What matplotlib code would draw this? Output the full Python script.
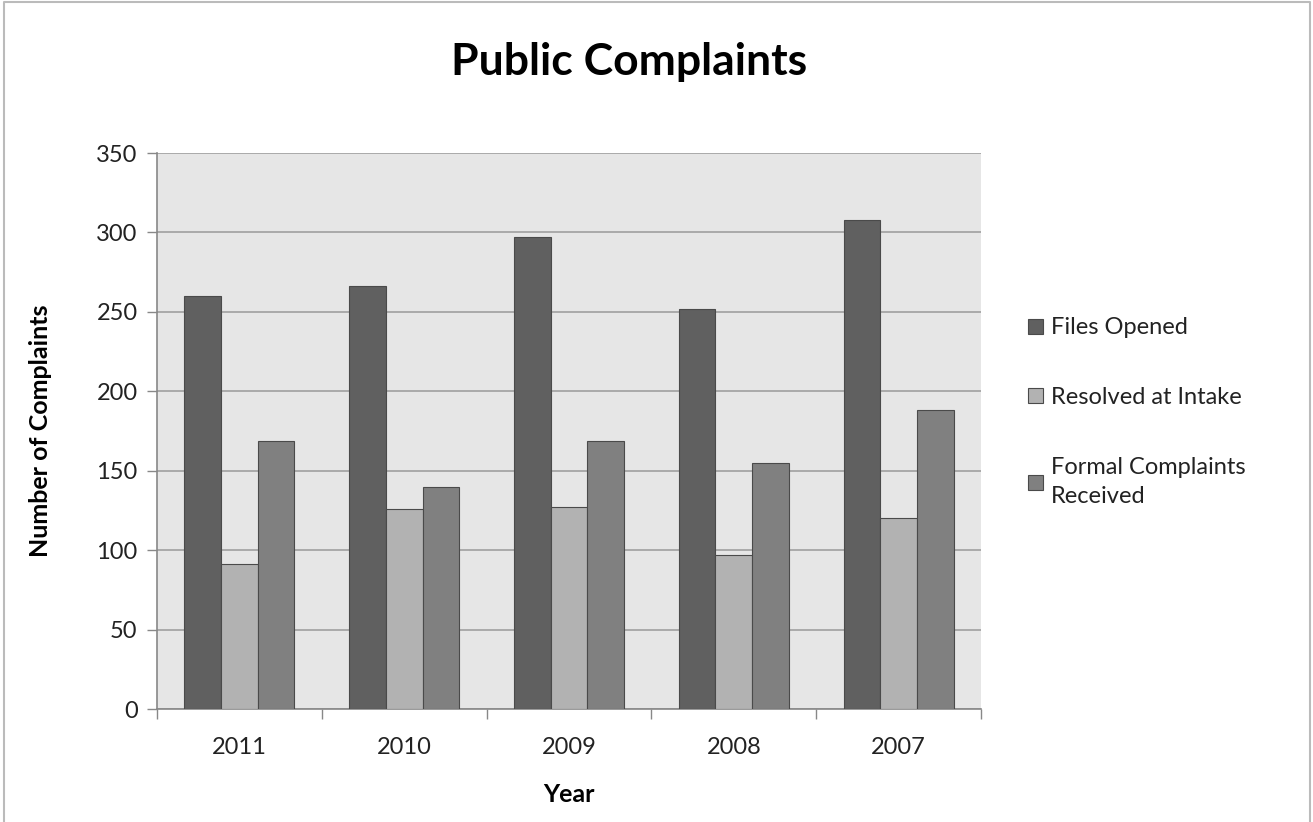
import matplotlib
matplotlib.use("Agg")
import matplotlib.pyplot as plt
import numpy as np
from matplotlib.patches import Patch
from matplotlib.lines import Line2D

years = ["2011", "2010", "2009", "2008", "2007"]
files_opened = [260, 266, 297, 252, 308]
resolved_at_intake = [91, 126, 127, 97, 120]
formal_complaints = [169, 140, 169, 155, 188]
series_names = ["Files Opened", "Resolved at Intake", "Formal Complaints\nReceived"]
series_colors = ["#606060", "#b2b2b2", "#808080"]

plt.rcParams['font.family'] = ['Lato', 'DejaVu Sans']

W, H = 1313, 822
fig = plt.figure(figsize=(W / 100, H / 100), dpi=100)
ax = fig.add_axes([157 / W, 1 - 709 / H, (981 - 157) / W, (709 - 153) / H])
ax.set_facecolor("#e6e6e6")

x = np.arange(len(years))
bw = 1 / 4.5
for i, (vals, col) in enumerate(zip([files_opened, resolved_at_intake, formal_complaints], series_colors)):
    ax.bar(x + (i - 1) * bw, vals, width=bw, color=col, edgecolor="#4a4a4a", linewidth=0.8, zorder=3)

ax.set_xlim(-0.5, len(years) - 0.5)
ax.set_ylim(0, 350)
ax.set_yticks(np.arange(0, 351, 50))
ax.yaxis.grid(True, color="#a0a0a0", linewidth=1.2, zorder=1)
ax.set_axisbelow(True)

ax.set_xticks(x)
ax.set_xticklabels(years)
ax.set_xticks(np.arange(-0.5, len(years)), minor=True)
ax.tick_params(axis='x', which='major', length=0, pad=20, labelsize=17, labelcolor="#222222")
ax.tick_params(axis='x', which='minor', length=7, width=1, color="#888888", direction='out')
ax.tick_params(axis='y', length=7, width=1, color="#888888", direction='out', pad=7,
               labelsize=17, labelcolor="#222222")

for s in ["top", "right"]:
    ax.spines[s].set_visible(False)
for s in ["left", "bottom"]:
    ax.spines[s].set_color("#888888")
    ax.spines[s].set_linewidth(1.2)

ax.set_ylabel("Number of Complaints", fontsize=18, fontweight='bold', labelpad=32)
ax.set_xlabel("Year", fontsize=18, fontweight='bold', labelpad=18)

fig.text(629 / W, 1 - 62 / H, "Public Complaints", ha='center', va='center',
         fontsize=32, fontweight='bold', color="#000000")

handles = [Patch(facecolor=c, edgecolor="#4a4a4a", linewidth=0.8) for c in series_colors]
leg = fig.legend(handles, series_names, loc='upper left', bbox_to_anchor=(1019 / W, 1 - 308 / H),
                 frameon=False, fontsize=17, labelspacing=2.07, handlelength=0.6, handleheight=0.6,
                 handletextpad=0.35, borderaxespad=0)
for t in leg.get_texts():
    t.set_color("#222222")
    t.set_linespacing(1.45)

# figure border
fig.add_artist(Line2D([4 / W, 4 / W, 1310 / W, 1310 / W], [0, 1 - 2 / H, 1 - 2 / H, 0],
                      color="#bbbbbb", linewidth=1.5, transform=fig.transFigure))

fig.savefig("out.png", dpi=100)
